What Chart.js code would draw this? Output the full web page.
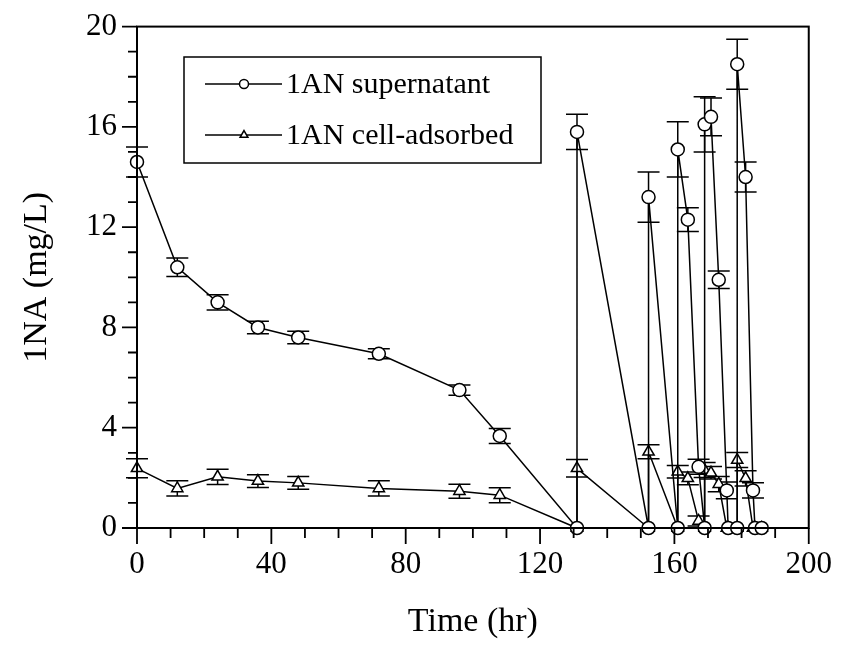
<!DOCTYPE html>
<html><head><meta charset="utf-8">
<script src="https://cdn.jsdelivr.net/npm/chart.js@4.4.1/dist/chart.umd.min.js"></script>
<style>html,body{margin:0;padding:0;background:#fff;overflow:hidden;}#wrap{width:842px;height:648px;position:relative;overflow:hidden;}canvas{display:block;position:absolute;left:0;top:-12px;}</style>
</head><body><div id="wrap"><canvas id="c" width="850" height="660" style="width:850px;height:660px"></canvas></div>
<script>
// ---- data ----
const timeHr = [0,12,24,36,48,72,96,108,131,131,152.3,152.3,161,161,164,167.2,169,169,170.9,173.2,175.6,176,178.7,178.7,181.2,183.4,184,186];
const supernatant = [14.6,10.4,9.0,8.0,7.6,6.95,5.5,3.67,0,15.8,0,13.2,0,15.1,12.3,2.44,0,16.1,16.4,9.9,1.5,0,0,18.5,14.0,1.5,0,0];
const supernatantErr = [0.6,0.37,0.3,0.25,0.25,0.2,0.2,0.3,0,0.7,0,1.0,0,1.1,0.47,0.3,0,1.1,0.75,0.35,0.33,0,0,1.0,0.6,0.3,0,0];
const cellAdsorbed = [2.38,1.58,2.04,1.87,1.8,1.58,1.47,1.31,0,2.38,0,3.04,0,2.24,1.98,0.28,0,2.31,2.2,1.75,0,0,0,2.71,1.98,0,0,0];
const cellAdsorbedErr = [0.38,0.3,0.3,0.25,0.25,0.3,0.28,0.3,0,0.35,0,0.28,0,0.25,0.25,0.2,0,0.3,0.25,0.3,0,0,0,0.3,0.3,0,0,0];
const seriesNames = ['1AN supernatant','1AN cell-adsorbed'];
const xTickLabels = [0,40,80,120,160,200];
const yTickLabels = [0,4,8,12,16,20];
const xTitle = 'Time (hr)';
const yTitle = '1NA (mg/L)';

const FONT = "'Liberation Serif','Times New Roman',serif";
const OFFSET_Y = 12; // canvas is shifted up by this many px

function pts(ys){ return timeHr.map((t,i)=>({x:t,y:ys[i]})); }

const errorBars = {
  id:'errorBars',
  beforeDatasetsDraw(chart){
    const {ctx, scales:{x,y}} = chart;
    const errs = [supernatantErr, cellAdsorbedErr];
    ctx.save(); ctx.strokeStyle='#000'; ctx.lineWidth=1.5;
    chart.data.datasets.forEach((ds,di)=>{
      ds.data.forEach((p,i)=>{
        const e = errs[di][i]; if(!e) return;
        const px = x.getPixelForValue(p.x);
        const y1 = y.getPixelForValue(p.y+e), y2 = y.getPixelForValue(p.y-e);
        ctx.beginPath();
        ctx.moveTo(px,y1); ctx.lineTo(px,y2);
        ctx.moveTo(px-11,y1); ctx.lineTo(px+11,y1);
        ctx.moveTo(px-11,y2); ctx.lineTo(px+11,y2);
        ctx.stroke();
      });
    });
    ctx.restore();
  }
};

const frame = {
  id:'frame',
  afterDraw(chart){
    const {ctx, chartArea:a, scales:{x,y}} = chart;
    ctx.save(); ctx.strokeStyle='#000';
    ctx.lineWidth=2;
    ctx.strokeRect(a.left,a.top,a.right-a.left,a.bottom-a.top);
    ctx.lineWidth=1.8;
    ctx.beginPath();
    for(let v=x.min; v<=x.max; v+=10){
      const px=x.getPixelForValue(v); const len = xTickLabels.includes(v)?16:10;
      ctx.moveTo(px,a.bottom); ctx.lineTo(px,a.bottom+len);
    }
    for(let v=y.min; v<=y.max; v+=1){
      const py=y.getPixelForValue(v); const len = yTickLabels.includes(v)?15:9;
      ctx.moveTo(a.left-len,py); ctx.lineTo(a.left,py);
    }
    ctx.stroke();
    // legend
    const oy = OFFSET_Y;
    const L={x:184,y:57+oy,w:357,h:106};
    ctx.lineWidth=1.5; ctx.strokeRect(L.x,L.y,L.w,L.h);
    const rows=[{cy:84+oy,style:'circle'},{cy:135+oy,style:'triangle'}];
    rows.forEach((r,i)=>{
      ctx.strokeStyle='#000'; ctx.lineWidth=1.5;
      ctx.beginPath(); ctx.moveTo(205,r.cy); ctx.lineTo(282,r.cy); ctx.stroke();
      ctx.fillStyle='#fff'; ctx.strokeStyle='#000'; ctx.lineWidth=1.5;
      Chart.helpers.drawPoint(ctx,{pointStyle:r.style,radius:4.5,borderWidth:1.5},244,r.cy);
      ctx.font = '30px '+FONT; ctx.fillStyle='#000'; ctx.textBaseline='middle'; ctx.textAlign='left';
      ctx.fillText(seriesNames[i],286,r.cy+1);
    });
    ctx.restore();
  }
};

const common = {showLine:true, borderColor:'#000', borderWidth:1.5, pointBackgroundColor:'#fff', pointBorderColor:'#000', pointBorderWidth:1.5, clip:false, tension:0};

new Chart(document.getElementById('c'),{
  type:'scatter',
  data:{datasets:[
    Object.assign({label:seriesNames[0], data:pts(supernatant), pointStyle:'circle', pointRadius:6.5},common),
    Object.assign({label:seriesNames[1], data:pts(cellAdsorbed), pointStyle:'triangle', pointRadius:6.5},common)
  ]},
  options:{
    responsive:false, animation:false, devicePixelRatio:1,
    layout:{padding:{top:14,right:26,left:0,bottom:0}, autoPadding:false},
    plugins:{legend:{display:false}, tooltip:{enabled:false}},
    scales:{
      x:{type:'linear', min:0, max:200,
        afterBuildTicks:(s)=>{s.ticks = xTickLabels.map(v=>({value:v}));},
        afterFit:(s)=>{s.height=120;},
        grid:{display:false, drawTicks:false}, border:{display:false},
        ticks:{color:'#000', padding:18, font:{family:FONT,size:31}, maxRotation:0},
        title:{display:true, text:xTitle, color:'#000', font:{family:FONT,size:34}, padding:{top:0,bottom:6}}
      },
      y:{type:'linear', min:0, max:20,
        afterBuildTicks:(s)=>{s.ticks = yTickLabels.map(v=>({value:v}));},
        afterFit:(s)=>{s.width=137;},
        grid:{display:false, drawTicks:false}, border:{display:false},
        ticks:{color:'#000', padding:20, font:{family:FONT,size:31}},
        title:{display:true, text:yTitle, color:'#000', font:{family:FONT,size:34}, padding:{top:17,bottom:0}}
      }
    }
  },
  plugins:[errorBars, frame]
});
</script></body></html>
